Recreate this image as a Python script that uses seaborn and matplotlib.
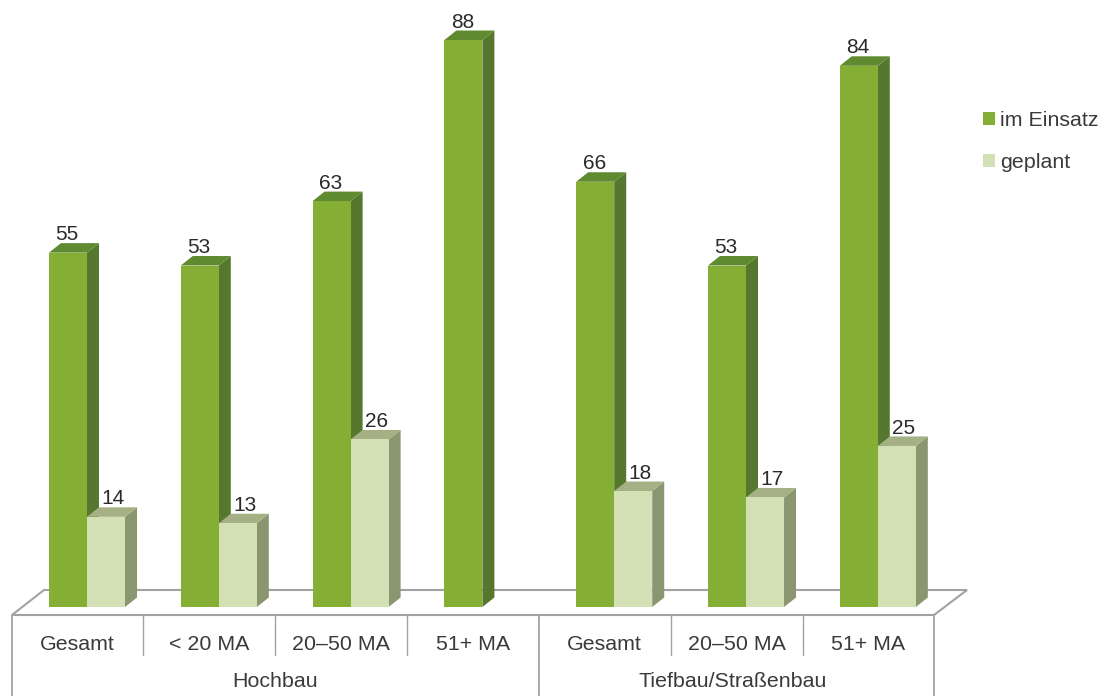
import matplotlib
matplotlib.use("Agg")
import matplotlib.pyplot as plt
import pandas as pd
import seaborn as sns
from matplotlib.patches import Polygon, Patch
from matplotlib.lines import Line2D
from matplotlib.transforms import Affine2D

# ---- data ----
categories = ["HB Gesamt", "HB <20", "HB 20-50", "HB 51+", "TB Gesamt", "TB 20-50", "TB 51+"]
tick_labels = ["Gesamt", "< 20 MA", "20–50 MA", "51+ MA", "Gesamt", "20–50 MA", "51+ MA"]
im_einsatz = [55, 53, 63, 88, 66, 53, 84]
geplant = [14, 13, 26, None, 18, 17, 25]
series_names = ["im Einsatz", "geplant"]
group_labels = ["Hochbau", "Tiefbau/Straßenbau"]

front = {"im Einsatz": "#85AE35", "geplant": "#D3E0B5"}
side = {"im Einsatz": "#56782E", "geplant": "#8A9670"}
top = {"im Einsatz": "#5F8A30", "geplant": "#A5B085"}
TXT = "#3A3A3A"
GRID = "#A2A2A2"
FS = 15.4

sns.set_style("white")
plt.rcParams["font.family"] = ["Liberation Sans", "DejaVu Sans"]

W, H = 1101, 696
fig = plt.figure(figsize=(W / 100, H / 100), dpi=100)
base_px, unit_px, step_px, first_px = 607, 6.443, 131.8, 87
ax = fig.add_axes([0, (H - base_px) / H, 1, base_px / H])
ax.patch.set_alpha(0)

rows = []
for c, a, b in zip(categories, im_einsatz, geplant):
    rows.append({"cat": c, "series": series_names[0], "value": a})
    if b is not None:
        rows.append({"cat": c, "series": series_names[1], "value": b})
df = pd.DataFrame(rows)

sns.barplot(data=df, x="cat", y="value", hue="series", order=categories,
            hue_order=series_names, palette=front, width=0.577, gap=0,
            saturation=1, legend=False, ax=ax, linewidth=0, zorder=3)

ax.set_xlim(-first_px / step_px, (W - first_px) / step_px)
ax.set_ylim(0, base_px / unit_px)
sns.despine(ax=ax, left=True, bottom=True)
ax.yaxis.set_visible(False)
ax.set_xlabel("")
# the labels sit centred in the table cells, a little left of the bar pairs
ax.set_xticks([i - 9.5 / step_px for i in range(len(tick_labels))])
ax.set_xticklabels(tick_labels, fontsize=FS, color=TXT)
ax.tick_params(axis="x", length=0, pad=20)

# 3D depth faces
dx, dy = 12 / step_px, 9.5 / unit_px
for name, cont, z in zip(series_names, ax.containers, (1.5, 3)):
    for bar in cont:
        x0, w, h = bar.get_x(), bar.get_width(), bar.get_height()
        x1 = x0 + w
        bar.set_zorder(2 if name == series_names[0] else 3.1)
        ax.add_patch(Polygon([(x1, 0), (x1 + dx, dy), (x1 + dx, h + dy), (x1, h)],
                             closed=True, fc=side[name], ec="none", zorder=z))
        ax.add_patch(Polygon([(x0, h), (x0 + dx, h + dy), (x1 + dx, h + dy), (x1, h)],
                             closed=True, fc=top[name], ec="none", zorder=z))

# value labels
for cont, shift in zip(ax.containers, (-1, 7)):
    for ann in ax.bar_label(cont, fmt="%d", padding=6, fontsize=15, color="#2A2A2A", zorder=5):
        ann.xyann = (shift * 0.72, 6)

# floor and table, in image pixels
px = Affine2D().scale(1, -1).translate(0, H)
ax.add_patch(Polygon([(12, 615), (44, 590), (967, 590), (934, 615)], closed=True,
                     fc="white", ec=GRID, lw=1.5, transform=px, clip_on=False, zorder=1))
for x in (143, 275, 407, 671, 803):
    ax.add_line(Line2D([x, x], [615, 655], color=GRID, lw=1.0, transform=px, clip_on=False, zorder=1))
for x in (12, 539, 934):
    ax.add_line(Line2D([x, x], [615, 696], color=GRID, lw=1.3, transform=px, clip_on=False, zorder=1))
for lbl, x in zip(group_labels, (275, 733)):
    ax.text(x, 681.5, lbl, transform=px, ha="center", va="center", fontsize=FS, color=TXT, clip_on=False)

# legend
handles = [Patch(fc=front[n], ec="none", label=n) for n in series_names]
fig.legend(handles=handles, loc="center left", bbox_to_anchor=(983 / W, 1 - 141.5 / H),
           frameon=False, fontsize=FS, labelcolor=TXT, handlelength=0.56, handleheight=0.56,
           handletextpad=0.22, labelspacing=1.08, borderpad=0, borderaxespad=0)

fig.savefig("out.png", dpi=100)
